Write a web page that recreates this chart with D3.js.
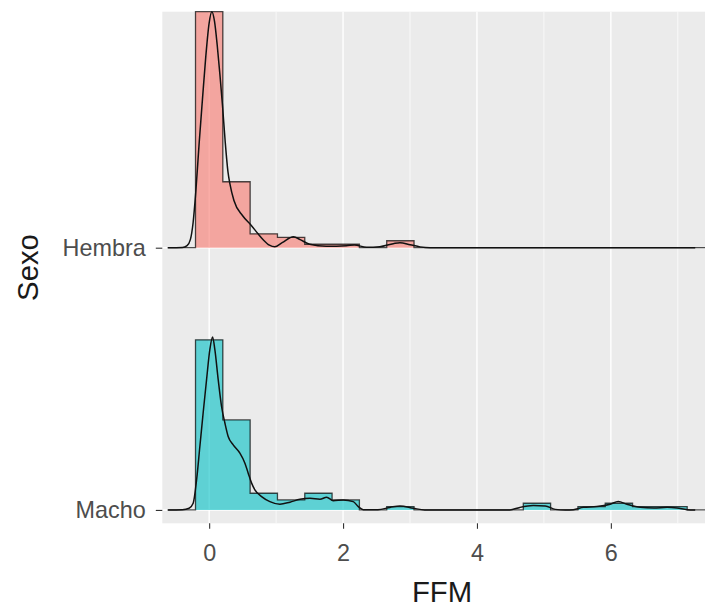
<!DOCTYPE html>
<html>
<head>
<meta charset="utf-8">
<script src="https://cdn.jsdelivr.net/npm/d3@7"></script>
<style>
  body { margin: 0; background: #fff; }
  text { font-family: "Liberation Sans", Arial, sans-serif; }
</style>
</head>
<body>
<svg id="ridges" width="705" height="607"></svg>
<script>
// groups from bottom to top
var groups = ["Macho", "Hembra"];
var groupColours = ["#00BFC4", "#F8766D"];

// histogram bins (binline): 20 bins starting at binStart
var binStart = -0.612, binWidth = 0.408;
var countsMacho  = [0, 51, 27, 5, 3, 5, 3, 0, 1, 0, 0, 0, 0, 2, 0, 1, 2, 1, 1, 0];
var countsHembra = [0, 68, 19, 4, 3, 1, 1, 0, 2, 0, 0, 0, 0, 0, 0, 0, 0, 0, 0, 0];

// density estimate: [FFM, density]
var kdeMacho = [[-0.62, 0], [-0.40, 0.002], [-0.30, 0.012], [-0.239, 0.048], [-0.188, 0.216],
  [-0.139, 0.457], [-0.09, 0.698], [-0.039, 0.938], [0.01, 1.154], [0.051, 1.246], [0.085, 1.154],
  [0.135, 0.938], [0.185, 0.745], [0.235, 0.626], [0.284, 0.529], [0.359, 0.469], [0.459, 0.409],
  [0.534, 0.337], [0.583, 0.265], [0.634, 0.193], [0.683, 0.144], [0.783, 0.096], [0.907, 0.06],
  [1.057, 0.041], [1.206, 0.056], [1.356, 0.077], [1.506, 0.084], [1.655, 0.077], [1.755, 0.092],
  [1.853, 0.067], [2.003, 0.072], [2.152, 0.06], [2.227, 0.024], [2.302, 0.002], [2.52, 0.002],
  [2.70, 0.018], [2.85, 0.029], [3.05, 0.012], [3.22, 0], [4.49, 0], [4.64, 0.018], [4.84, 0.031],
  [5.02, 0.029], [5.17, 0.004], [5.32, 0], [5.44, 0.002], [5.59, 0.019], [5.79, 0.024], [5.99, 0.041],
  [6.11, 0.06], [6.24, 0.041], [6.44, 0.019], [6.64, 0.014], [6.84, 0.019], [6.99, 0.014],
  [7.14, 0.002], [7.26, 0]];
var kdeHembra = [[-0.62, 0], [-0.40, 0.002], [-0.33, 0.015], [-0.28, 0.06], [-0.24, 0.18],
  [-0.20, 0.40], [-0.15, 0.75], [-0.10, 1.07], [-0.05, 1.38], [0.00, 1.62], [0.04, 1.70],
  [0.08, 1.63], [0.12, 1.46], [0.16, 1.25], [0.20, 1.02], [0.24, 0.76], [0.28, 0.55], [0.31, 0.46],
  [0.37, 0.34], [0.50, 0.23], [0.63, 0.16], [0.73, 0.10], [0.81, 0.056], [0.90, 0.018],
  [0.98, 0.006], [1.09, 0.036], [1.26, 0.079], [1.36, 0.058], [1.50, 0.025], [1.75, 0.01],
  [2.05, 0.014], [2.17, 0.02], [2.35, 0.003], [2.55, 0.007], [2.75, 0.029], [2.85, 0.036],
  [3.00, 0.022], [3.15, 0.006], [3.30, 0], [7.26, 0]];

var xTicks = [0, 2, 4, 6];
var xMinor = [1, 3, 5, 7];

var counts = [countsMacho, countsHembra];
var kdes = [kdeMacho, kdeHembra];
var ridgeScale = 0.9;

var svg = d3.select("#ridges"),
    panel = {left: 162.3, right: 722, top: 11.7, bottom: 523.3};

var x = d3.scaleLinear().domain([-0.70, 7.66]).range([panel.left, panel.right]);
var y = d3.scaleLinear().domain([0.949, 2.9]).range([panel.bottom, panel.top]);

// densities of the histogram bins
var histDens = counts.map(function(c) {
  var n = d3.sum(c);
  return c.map(function(v) { return v / (n * binWidth); });
});
var histMax = d3.max(histDens, function(d) { return d3.max(d); });
var kdeMax = d3.max(kdes, function(k) { return d3.max(k, function(p) { return p[1]; }); });

svg.append("defs").append("clipPath").attr("id", "clip")
  .append("rect")
    .attr("x", panel.left).attr("y", panel.top - 1)
    .attr("width", panel.right - panel.left).attr("height", panel.bottom - panel.top + 1);

svg.append("rect")
    .attr("x", panel.left).attr("y", panel.top)
    .attr("width", panel.right - panel.left).attr("height", panel.bottom - panel.top)
    .attr("fill", "#EBEBEB");

var grid = svg.append("g").attr("stroke", "#fff");
grid.selectAll(".minor").data(xMinor).enter().append("line")
    .attr("x1", x).attr("x2", x).attr("y1", panel.top).attr("y2", panel.bottom)
    .attr("stroke-width", 0.7);
grid.selectAll(".major").data(xTicks).enter().append("line")
    .attr("x1", x).attr("x2", x).attr("y1", panel.top).attr("y2", panel.bottom)
    .attr("stroke-width", 1.4);
grid.selectAll(".hmajor").data([1, 2]).enter().append("line")
    .attr("x1", panel.left).attr("x2", panel.right).attr("y1", y).attr("y2", y)
    .attr("stroke-width", 1.4);

var ridges = svg.append("g").attr("clip-path", "url(#clip)");

// draw top ridge first, bottom ridge over it
[1, 0].forEach(function(gi) {
  var base = gi + 1;
  var hy = function(v) { return y(base + ridgeScale * v / histMax); };
  var pts = [[x(binStart), y(base)]];
  histDens[gi].forEach(function(v, i) {
    var a = binStart + i * binWidth, b = a + binWidth;
    pts.push([x(a), hy(v)], [x(b), hy(v)]);
  });
  pts.push([x(binStart + histDens[gi].length * binWidth), y(base)]);

  ridges.append("path")
      .attr("d", "M" + pts.join("L") + "Z")
      .attr("fill", groupColours[gi])
      .attr("fill-opacity", 0.6)
      .attr("stroke", "none");
  ridges.append("path")
      .attr("d", "M" + pts.join("L"))
      .attr("fill", "none")
      .attr("stroke", "#000")
      .attr("stroke-opacity", 0.7)
      .attr("stroke-width", 1.3);

  var line = d3.line()
      .x(function(p) { return x(p[0]); })
      .y(function(p) { return y(base + ridgeScale * p[1] / kdeMax); })
      .curve(d3.curveMonotoneX);
  ridges.append("path")
      .attr("d", line(kdes[gi]))
      .attr("fill", "none")
      .attr("stroke", "#111")
      .attr("stroke-width", 1.5);
});

var xAxis = svg.append("g")
    .attr("transform", "translate(0," + panel.bottom + ")")
    .call(d3.axisBottom(x).tickValues(xTicks).tickSize(5.5).tickPadding(16));
var yAxis = svg.append("g")
    .attr("transform", "translate(" + panel.left + ",0)")
    .call(d3.axisLeft(y).tickValues([1, 2]).tickFormat(function(d) { return groups[d - 1]; })
      .tickSize(6.5).tickPadding(10));

[xAxis, yAxis].forEach(function(a) {
  a.select(".domain").remove();
  a.selectAll(".tick line").attr("stroke", "#333").attr("stroke-width", 1.1);
  a.selectAll(".tick text").attr("fill", "#4D4D4D").style("font-size", "23.4px");
});

svg.append("text")
    .attr("x", 442).attr("y", 602)
    .attr("text-anchor", "middle")
    .attr("fill", "#1a1a1a")
    .style("font-size", "29.3px")
    .text("FFM");

svg.append("text")
    .attr("transform", "translate(37.5," + (panel.top + panel.bottom) / 2 + ") rotate(-90)")
    .attr("text-anchor", "middle")
    .attr("fill", "#1a1a1a")
    .style("font-size", "29.3px")
    .text("Sexo");
</script>
</body>
</html>
